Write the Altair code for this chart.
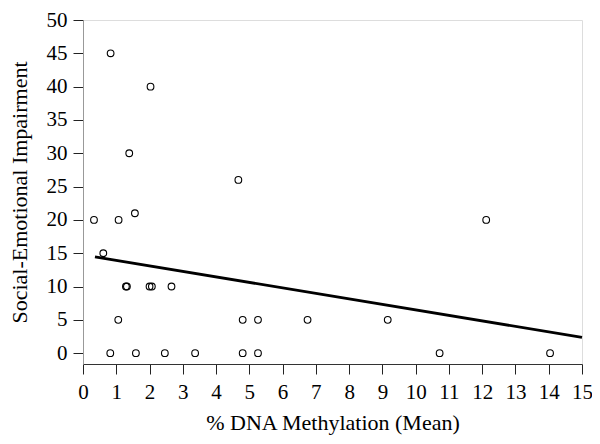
import altair as alt
import pandas as pd

methylation = [0.33, 0.61, 0.83, 0.82, 1.07, 1.06, 1.29, 1.32, 1.39, 1.56, 1.59,
               2.03, 2.00, 2.07, 2.46, 2.66, 3.37, 4.67, 4.80, 4.80, 5.26, 5.26,
               6.75, 9.16, 10.72, 12.12, 14.04]
impairment = [20, 15, 45, 0, 20, 5, 10, 10, 30, 21, 0,
              40, 10, 10, 0, 10, 0, 26, 5, 0, 5, 0,
              5, 5, 0, 20, 0]

fit_x = [0.36, 15.0]
fit_y = [14.45, 2.36]

x_ticks = list(range(0, 16))
y_ticks = list(range(0, 55, 5))

pts = pd.DataFrame({"x": methylation, "y": impairment})
fit = pd.DataFrame({"x": fit_x, "y": fit_y})

FONT = "Liberation Serif"

xscale = alt.Scale(domain=[0, 15], nice=False, zero=False)
yscale = alt.Scale(domain=[-1.63, 50], nice=False, zero=False)

xaxis = alt.Axis(values=x_ticks, title="% DNA Methylation (Mean)")
yaxis = alt.Axis(values=y_ticks, title="Social-Emotional Impairment")

points = alt.Chart(pts).mark_point(
    shape="circle", filled=False, color="black", size=45, strokeWidth=1.1, opacity=1
).encode(
    x=alt.X("x:Q", scale=xscale, axis=xaxis),
    y=alt.Y("y:Q", scale=yscale, axis=yaxis),
)

line = alt.Chart(fit).mark_line(color="black", strokeWidth=2.8).encode(
    x=alt.X("x:Q", scale=xscale, axis=xaxis),
    y=alt.Y("y:Q", scale=yscale, axis=yaxis),
)

chart = alt.layer(points, line).properties(
    width=499, height=344,
    autosize=alt.AutoSizeParams(type="none"),
    padding={"left": 75, "top": 12, "right": 10, "bottom": 72},
).configure_view(stroke=None).configure(background="white").configure_axis(
    grid=False, tickColor="#222222", tickSize=10, tickWidth=1,
    labelFont=FONT, labelFontSize=21, labelColor="black",
    labelOverlap=False, labelFlush=False, labelBound=False,
    titleFont=FONT, titleFontSize=22, titleFontWeight="normal", titleColor="black",
).configure_axisX(
    domainColor="#333333", labelPadding=7, titlePadding=10,
).configure_axisY(
    domainColor="#999999", labelPadding=6, titlePadding=15,
)

chart.save("out.html", embed_options={"renderer": "svg", "actions": False})
